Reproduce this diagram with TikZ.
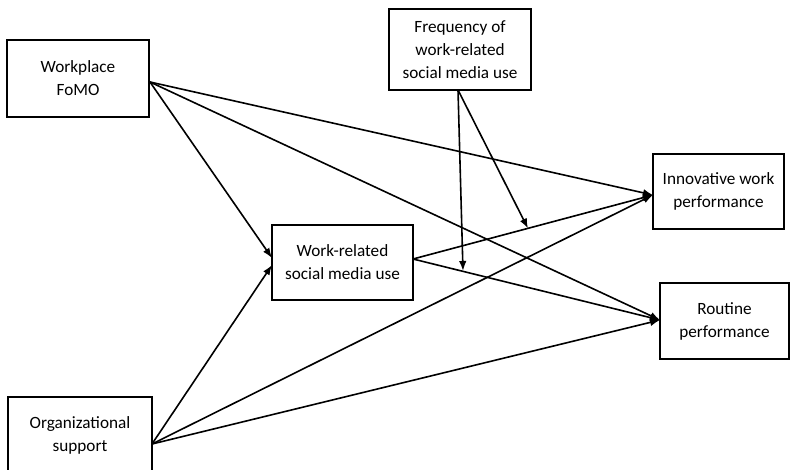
\documentclass[tikz,border=0pt]{standalone}
\usepackage{fontspec}
\setmainfont{Carlito}
\usetikzlibrary{arrows.meta}
\begin{document}
\begin{tikzpicture}[x=1pt,y=-1pt,
  box/.style={draw, line width=2.2pt, align=center, inner sep=0pt, font=\fontsize{17.2}{23}\selectfont},
  arr/.style={line width=1.6pt, -{Latex[length=10pt,width=7.5pt]}}]
\useasboundingbox (0,0) rectangle (791,469);
\node[box, minimum width=142pt, minimum height=77pt] (fomo) at (78,78.5) {Workplace\\FoMO};
\node[box, minimum width=142pt, minimum height=81pt] (freq) at (460,49.5) {Frequency of\\work-related\\social media use};
\node[box, minimum width=131pt, minimum height=75pt] (inn) at (718.5,191.5) {Innovative work\\performance};
\node[box, minimum width=141pt, minimum height=75pt] (wr) at (342.5,262.5) {Work-related\\social media use};
\node[box, minimum width=129pt, minimum height=76pt] (rout) at (724.5,321) {Routine\\performance};
\node[box, minimum width=144pt, minimum height=77pt] (org) at (80,435.5) {\raisebox{3pt}{\begin{tabular}{@{}c@{}}Organizational\\support\end{tabular}}};
\coordinate (fo) at (150,82);
\coordinate (os) at (152,444);
\coordinate (wrinA) at (272,258);
\coordinate (wrinB) at (272,265);
\coordinate (wrout) at (413,259);
\coordinate (inin) at (653,195);
\coordinate (roin) at (660,320);
\coordinate (fqout) at (458,90);
\coordinate (m1) at (528,228.5);
\coordinate (m2) at (463,271);
\draw[arr] (fo) -- (inin);
\draw[arr] (fo) -- (roin);
\draw[arr] (fo) -- (wrinA);
\draw[arr] (os) -- (wrinB);
\draw[arr] (os) -- (inin);
\draw[arr] (os) -- (roin);
\draw[arr] (wrout) -- (inin);
\draw[arr] (wrout) -- (roin);
\draw[arr] (fqout) -- (m1);
\draw[arr] (fqout) -- (m2);
\end{tikzpicture}
\end{document}
